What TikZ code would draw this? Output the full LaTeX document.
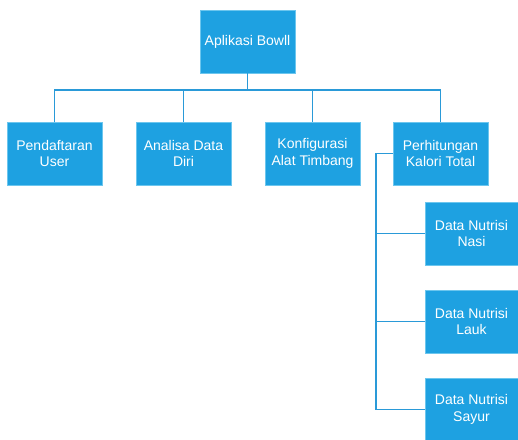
\documentclass[tikz,border=0pt]{standalone}
\usepackage{fontspec}
\setmainfont{Liberation Sans}
\definecolor{boxfill}{HTML}{1EA1E1}
\definecolor{boxline}{HTML}{6CC6EE}
\definecolor{conn}{HTML}{2A9AD8}
\begin{document}
\begin{tikzpicture}[x=1pt,y=-1pt,
  boxnode/.style={rectangle, fill=boxfill, draw=boxline, line width=0.8pt,
    minimum width=95pt, minimum height=63pt, inner sep=0pt, align=center,
    text=white, font=\fontsize{14}{16.5}\selectfont},
  childnode/.style={boxnode, minimum width=93pt},
  connline/.style={draw=conn, line width=1.2pt}]
\useasboundingbox (0,0) rectangle (518,439);
\node[boxnode] (top) at (247.5,41.5) {Aplikasi Bowll};
\node[boxnode] (b1) at (54.5,153.5) {Pendaftaran\\User};
\node[boxnode] (b2) at (183.5,153.5) {Analisa Data\\Diri};
\node[boxnode] (b3) at (312.5,153.5) {Konfigurasi\\Alat Timbang};
\node[boxnode] (b4) at (440.5,153.5) {Perhitungan\\Kalori Total};
\node[childnode] (c1) at (471.5,233.5) {Data Nutrisi\\Nasi};
\node[childnode] (c2) at (471.5,321.5) {Data Nutrisi\\Lauk};
\node[childnode] (c3) at (471.5,409.5) {Data Nutrisi\\Sayur};
\coordinate (hl) at (0,90);
\coordinate (vx) at (376,0);
\draw[connline] (top.south) -- (top.south |- hl);
\draw[connline] (b1.north) -- (b1.north |- hl) -- (b4.north |- hl) -- (b4.north);
\draw[connline] (b2.north) -- (b2.north |- hl);
\draw[connline] (b3.north) -- (b3.north |- hl);
\draw[connline] (b4.west) -- (b4.west -| vx) -- (c3.west -| vx) -- (c3.west);
\draw[connline] (c1.west) -- (c1.west -| vx);
\draw[connline] (c2.west) -- (c2.west -| vx);
\end{tikzpicture}
\end{document}
